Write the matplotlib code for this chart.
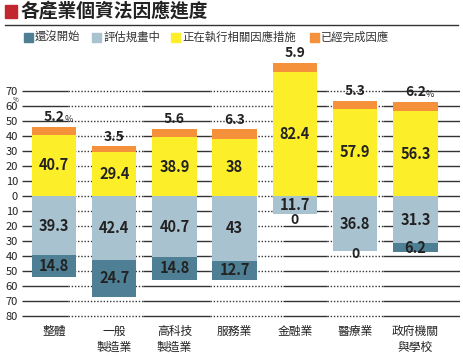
import numpy as np
import matplotlib
matplotlib.use("Agg")
import matplotlib.pyplot as plt
from matplotlib.patches import Rectangle

plt.rcParams['font.family'] = ['Noto Sans CJK TC', 'DejaVu Sans']

# data
categories = ["整體", "一般\n製造業", "高科技\n製造業", "服務業", "金融業", "醫療業", "政府機關\n與學校"]
not_started = [14.8, 24.7, 14.8, 12.7, 0, 0, 6.2]
planning = [39.3, 42.4, 40.7, 43, 11.7, 36.8, 31.3]
in_progress = [40.7, 29.4, 38.9, 38, 82.4, 57.9, 56.3]
completed = [5.2, 3.5, 5.6, 6.3, 5.9, 5.3, 6.2]
series_names = ["還沒開始", "評估規畫中", "正在執行相關因應措施", "已經完成因應"]
pct_marked = [0, 6]          # top labels that carry a small "%"
y_ticks = list(range(-80, 71, 10))
title = "各產業個資法因應進度"

C_DARK = "#4f7f94"
C_BLUE = "#a8c2d0"
C_YELLOW = "#fdee2a"
C_ORANGE = "#f4913a"
C_RED = "#c1272d"
C_TXT = "#222222"
C_GRID = "#333333"
colors = [C_DARK, C_BLUE, C_YELLOW, C_ORANGE]

W, H = 463, 356
fig = plt.figure(figsize=(W / 100, H / 100), dpi=100)


def fx(px):
    return px / W


def fy(py):
    return 1 - py / H


# axes placed in pixel terms: x 22..460, y 57.5..324
ylo, yhi = -85, 92
ax = fig.add_axes([fx(22), fy(323.9), fx(460) - fx(22), fy(57.5) - fy(323.9)])
ax.set_xlim(-0.53, 6.74)
ax.set_ylim(ylo, yhi)
for s in ax.spines.values():
    s.set_visible(False)

# gridlines: alternating solid / dotted stretches as in the original
breaks = [-0.53, 0.232, 1.477, 2.589, 3.80, 4.53, 5.46, 6.74]
for yv in y_ticks:
    for k in range(len(breaks) - 1):
        ls = "-" if k % 2 == 0 else (0, (1, 1.3))
        ax.plot([breaks[k], breaks[k + 1]], [yv, yv], color=C_GRID,
                lw=1.0, ls=ls, zorder=1, solid_capstyle="butt")

x = np.arange(len(categories))
bw = 0.74
inp = np.array(in_progress)
comp = np.array(completed)
pln = np.array(planning)
ns = np.array(not_started)

ax.bar(x, inp, bw, color=C_YELLOW, zorder=2)
ax.bar(x, comp, bw, bottom=inp, color=C_ORANGE, zorder=2)
ax.bar(x, -pln, bw, color=C_BLUE, zorder=2)
ax.bar(x, -ns, bw, bottom=-pln, color=C_DARK, zorder=2)

fmt = lambda v: f"{v:g}"
for i in range(len(x)):
    ax.text(x[i], inp[i] / 2, fmt(inp[i]), ha="center", va="center",
            fontsize=10.5, fontweight="bold", color=C_TXT, zorder=3)
    ax.text(x[i], -pln[i] / 2, fmt(pln[i]), ha="center", va="center",
            fontsize=10.5, fontweight="bold", color=C_TXT, zorder=3)
    if ns[i] > 0:
        ax.text(x[i], -pln[i] - ns[i] / 2, fmt(ns[i]), ha="center", va="center",
                fontsize=10.5, fontweight="bold", color=C_TXT, zorder=3)
    else:
        # zero share: small label just under the blue block
        zy = min(-pln[i] - 1.5, -pln[i] / 2 - 9.8)
        ax.text(x[i], zy, "0", ha="center", va="center",
                fontsize=10, fontweight="bold", color=C_TXT, zorder=3)
    top = inp[i] + comp[i]
    ax.annotate(fmt(comp[i]), (x[i], top), xytext=(0, 2), textcoords="offset points",
                ha="center", va="bottom", fontsize=10, fontweight="bold",
                color=C_TXT, zorder=3, annotation_clip=False)
    if i in pct_marked:
        ax.annotate("%", (x[i], top), xytext=(7.5, 2), textcoords="offset points",
                    ha="left", va="bottom", fontsize=6.5, color=C_TXT,
                    annotation_clip=False)

ax.set_yticks(y_ticks)
ax.set_yticklabels([str(abs(v)) for v in y_ticks], fontsize=8, color=C_TXT)
ax.set_xticks(x)
ax.set_xticklabels(categories, fontsize=8.5, color=C_TXT, linespacing=1.25)
ax.tick_params(axis="both", length=0)
ax.tick_params(axis="y", pad=3)
ax.tick_params(axis="x", pad=1)
fig.text(fx(16), fy(100), "%", fontsize=4.5, color=C_TXT, ha="center", va="center")

# title block
fig.patches.append(Rectangle((fx(5), fy(18)), fx(12), fy(5) - fy(18),
                             transform=fig.transFigure, color=C_RED))
fig.text(fx(21), fy(12), title, fontsize=13.5, fontweight="bold", color=C_TXT,
         ha="left", va="center")
fig.add_artist(plt.Line2D([fx(5), fx(458)], [fy(25), fy(25)], color=C_GRID,
                          lw=1.0, transform=fig.transFigure))

# legend row
leg_x = [24, 92, 171, 310]
for lx, name, c in zip(leg_x, series_names, colors):
    fig.patches.append(Rectangle((fx(lx), fy(42)), fx(9), fy(33) - fy(42),
                                 transform=fig.transFigure, color=c))
    fig.text(fx(lx + 11), fy(37.5), name, fontsize=8.2, color="#333333",
             ha="left", va="center")

fig.savefig("out.png", dpi=100)
